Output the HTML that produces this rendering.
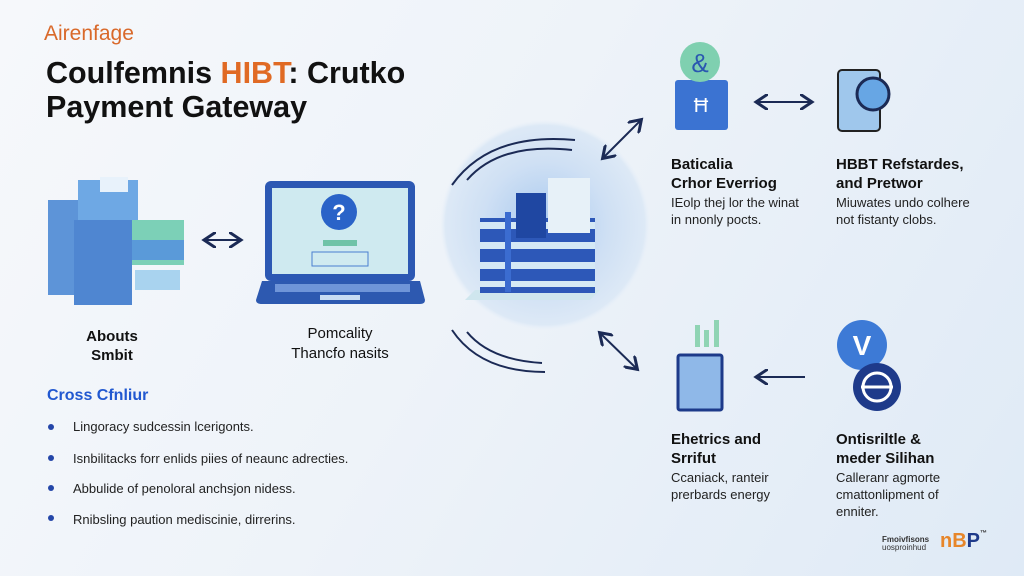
<!DOCTYPE html>
<html><head><meta charset="utf-8"><style>
body{margin:0;width:1024px;height:576px;overflow:hidden;font-family:"Liberation Sans",sans-serif;background:linear-gradient(120deg,#f6f8fb 0%,#eef3f9 45%,#dfeaf6 100%);position:relative}
.a{position:absolute;white-space:nowrap}
.b{font-weight:bold;color:#111}
.s{font-size:13px;color:#222}
</style></head><body>
<div class="a" style="left:44px;top:22px;font-size:21px;color:#d9692a">Airenfage</div>
<div class="a b" style="left:46px;top:56px;font-size:30.5px;line-height:34px">Coulfemnis <span style="color:#e06a24">HIBT</span>: Crutko<br>Payment Gateway</div>

<svg class="a" style="left:0;top:0" width="1024" height="576">
<defs>
<radialGradient id="g" cx="50%" cy="50%" r="50%"><stop offset="0" stop-color="#a8c9ef"/><stop offset=".6" stop-color="#cfe0f4"/><stop offset=".95" stop-color="#dde9f6"/><stop offset="1" stop-color="#e6eff9" stop-opacity="0"/></radialGradient>
<marker id="m" markerWidth="8" markerHeight="8" refX="5" refY="4" orient="auto-start-reverse"><path d="M0,0 L6,4 L0,8" fill="none" stroke="#1b2a55" stroke-width="1.5"/></marker>
</defs>
<!-- servers -->
<rect x="48" y="200" width="55" height="95" fill="#5d94d8"/>
<rect x="78" y="180" width="60" height="70" fill="#6ea8e4"/>
<rect x="74" y="220" width="58" height="85" fill="#4f86d1"/>
<rect x="132" y="220" width="52" height="45" fill="#7cd0b7"/>
<rect x="132" y="240" width="52" height="20" fill="#5a9ad9"/>
<rect x="135" y="270" width="45" height="20" fill="#a9d3ef"/>
<rect x="100" y="177" width="28" height="15" fill="#e8f2fb"/>
<!-- laptop -->
<rect x="265" y="181" width="150" height="100" rx="6" fill="#2c58b3"/>
<rect x="272" y="188" width="136" height="86" fill="#cfeaf0"/>
<circle cx="339" cy="212" r="18" fill="#2a63c8"/>
<text x="339" y="220" font-size="22" font-weight="bold" fill="#fff" text-anchor="middle" font-family="Liberation Sans">?</text>
<rect x="323" y="240" width="34" height="6" fill="#6fc3a8"/>
<rect x="312" y="252" width="56" height="14" fill="none" stroke="#4a7fd0"/>
<path d="M262,281 H420 L425,300 Q425,304 420,304 H262 Q256,304 256,300Z" fill="#2d59b0"/>
<rect x="275" y="284" width="135" height="8" fill="#6f95d8"/>
<rect x="320" y="295" width="40" height="5" fill="#c8dcf3"/>
<line x1="206" y1="240" x2="239" y2="240" stroke="#1b2a55" stroke-width="2" marker-start="url(#m)" marker-end="url(#m)"/>
<!-- central -->
<circle cx="545" cy="225" r="105" fill="url(#g)"/>
<path d="M465,300 L590,300 L600,290 L475,290Z" fill="#cfe6ee"/>
<rect x="480" y="218" width="115" height="75" fill="#2d58b8"/>
<rect x="480" y="222" width="115" height="7" fill="#d5e9f5"/>
<rect x="480" y="242" width="115" height="7" fill="#d5e9f5"/>
<rect x="480" y="262" width="115" height="7" fill="#d5e9f5"/>
<rect x="480" y="281" width="115" height="6" fill="#d5e9f5"/>
<rect x="516" y="193" width="30" height="45" fill="#1f47a2"/>
<rect x="548" y="178" width="42" height="55" fill="#e7f1f8"/>
<rect x="505" y="212" width="6" height="80" fill="#3b6cd0"/>
<path d="M452,185 Q490,132 575,140" fill="none" stroke="#1b2a55" stroke-width="2"/>
<path d="M467,180 Q500,142 572,150" fill="none" stroke="#1b2a55" stroke-width="2"/>
<path d="M452,330 Q480,372 545,372" fill="none" stroke="#1b2a55" stroke-width="2"/>
<path d="M467,332 Q490,360 542,363" fill="none" stroke="#1b2a55" stroke-width="2"/>
<line x1="604" y1="157" x2="640" y2="121" stroke="#1b2a55" stroke-width="2" marker-start="url(#m)" marker-end="url(#m)"/>
<line x1="601" y1="334" x2="636" y2="368" stroke="#1b2a55" stroke-width="2" marker-start="url(#m)" marker-end="url(#m)"/>
<!-- top right -->
<rect x="675" y="80" width="53" height="50" rx="3" fill="#3b73d2"/>
<circle cx="700" cy="62" r="20" fill="#7fd0b0"/>
<text x="700" y="72" font-size="26" fill="#2a58b0" text-anchor="middle" font-family="Liberation Sans">&amp;</text>
<text x="701" y="112" font-size="20" fill="#fff" text-anchor="middle" font-family="Liberation Sans">Ħ</text>
<line x1="758" y1="102" x2="810" y2="102" stroke="#1b2a55" stroke-width="2" marker-start="url(#m)" marker-end="url(#m)"/>
<rect x="838" y="70" width="42" height="61" rx="4" fill="#9fc7ec" stroke="#222" stroke-width="2"/>
<circle cx="873" cy="94" r="16" fill="#67a6e4" stroke="#1b2a55" stroke-width="3"/>
<!-- bottom right -->
<rect x="678" y="355" width="44" height="55" rx="2" fill="#8fb8e8" stroke="#1d3a8a" stroke-width="3"/>
<rect x="695" y="325" width="5" height="22" fill="#8fd4b4"/><rect x="704" y="330" width="5" height="17" fill="#8fd4b4"/><rect x="714" y="320" width="5" height="27" fill="#8fd4b4"/>
<line x1="758" y1="377" x2="805" y2="377" stroke="#1b2a55" stroke-width="2" marker-start="url(#m)"/>
<circle cx="862" cy="345" r="25" fill="#3d7ad6"/>
<text x="862" y="355" font-size="28" font-weight="bold" fill="#fff" text-anchor="middle" font-family="Liberation Sans">V</text>
<circle cx="877" cy="387" r="24" fill="#1e3a8a"/>
<circle cx="877" cy="387" r="14" fill="none" stroke="#fff" stroke-width="3"/>
<line x1="861" y1="387" x2="893" y2="387" stroke="#fff" stroke-width="3"/>
<!-- bullets -->
<circle cx="51" cy="427" r="3" fill="#2446a8"/><circle cx="51" cy="458" r="3" fill="#2446a8"/><circle cx="51" cy="488" r="3" fill="#2446a8"/><circle cx="51" cy="518" r="3" fill="#2446a8"/>
</svg>

<div class="a b" style="left:62px;top:327px;width:100px;text-align:center;font-size:15px;line-height:19px">Abouts<br>Smbit</div>
<div class="a" style="left:260px;top:324px;width:160px;text-align:center;font-size:15px;line-height:20px;color:#111">Pomcality<br>Thancfo nasits</div>
<div class="a b" style="left:47px;top:387px;font-size:16px;color:#2158d0">Cross Cfnliur</div>
<div class="a s" style="left:73px;top:419px">Lingoracy sudcessin lcerigonts.</div>
<div class="a s" style="left:73px;top:451px">Isnbilitacks forr enlids piies of neaunc adrecties.</div>
<div class="a s" style="left:73px;top:481px">Abbulide of penoloral anchsjon nidess.</div>
<div class="a s" style="left:73px;top:512px">Rnibsling paution mediscinie, dirrerins.</div>

<div class="a b" style="left:671px;top:155px;font-size:15px;line-height:19px">Baticalia<br>Crhor Everriog</div>
<div class="a s" style="left:671px;top:194px;line-height:17px">IEolp thej lor the winat<br>in nnonly pocts.</div>
<div class="a b" style="left:836px;top:155px;font-size:15px;line-height:19px">HBBT Refstardes,<br>and Pretwor</div>
<div class="a s" style="left:836px;top:194px;line-height:17px">Miuwates undo colhere<br>not fistanty clobs.</div>

<div class="a b" style="left:671px;top:430px;font-size:15px;line-height:19px">Ehetrics and<br>Srrifut</div>
<div class="a s" style="left:671px;top:469px;line-height:17px">Ccaniack, ranteir<br>prerbards energy</div>
<div class="a b" style="left:836px;top:430px;font-size:15px;line-height:19px">Ontisriltle &amp;<br>meder Silihan</div>
<div class="a s" style="left:836px;top:469px;line-height:17px">Calleranr agmorte<br>cmattonlipment of<br>enniter.</div>

<div class="a" style="left:882px;top:536px;font-size:8px;color:#333;line-height:8px;font-weight:bold">Fmoivfisons<br><span style="font-weight:normal">uosproinhud</span></div>
<div class="a" style="left:940px;top:530px;font-size:20px;font-weight:bold;color:#e7862a">nB<span style="color:#1e3a8a">P</span><span style="font-size:7px;color:#333;vertical-align:top">™</span></div>
</body></html>
